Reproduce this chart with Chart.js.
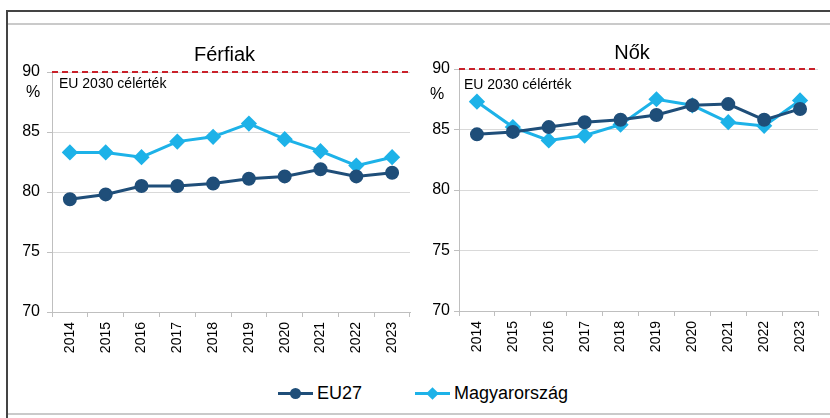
<!DOCTYPE html>
<html lang="hu">
<head>
<meta charset="utf-8">
<title>Foglalkoztatási ráta – Férfiak / Nők</title>
<script src="https://cdn.jsdelivr.net/npm/chart.js@4"></script>
<style>
  html, body { margin: 0; padding: 0; background: #fff; }
  body { width: 830px; height: 418px; position: relative; overflow: hidden;
         font-family: "Liberation Sans", Arial, sans-serif; }
  .frame-top { position: absolute; left: 6px; top: 10px; width: 824px; height: 2px; background: #444; }
  .frame-left { position: absolute; left: 6px; top: 10px; width: 2px; height: 408px; background: #444; }
  .rule { position: absolute; left: 8px; width: 822px; height: 2px; background: #cacaca; }
  .panel { position: absolute; }
  .legend { position: absolute; top: 381px; left: 0; height: 24px; }
  .legend-item { position: absolute; top: 0; height: 24px; }
  .legend-item .ln { position: absolute; top: 11px; left: 0; width: 35px; height: 3px; }
  .legend-item .mk { position: absolute; }
  .legend-item .tx { position: absolute; top: 2px; font-size: 18px; color: #000; white-space: nowrap; }
</style>
</head>
<body>
<div class="frame-top"></div>
<div class="frame-left"></div>
<div class="rule" style="top:23px"></div>
<div class="rule" style="top:413px"></div>

<div class="panel" style="left:10px; top:30px; width:410px; height:330px;">
  <canvas id="chart-ferfiak"></canvas>
</div>
<div class="panel" style="left:417px; top:27px; width:413px; height:332px;">
  <canvas id="chart-nok"></canvas>
</div>

<div class="legend" id="legend"></div>

<script>
// ── Data ──────────────────────────────────────────────────
const years = ['2014', '2015', '2016', '2017', '2018', '2019', '2020', '2021', '2022', '2023'];

const ferfiakEU27 = [79.4, 79.8, 80.5, 80.5, 80.7, 81.1, 81.3, 81.9, 81.3, 81.6];
const ferfiakHU   = [83.3, 83.3, 82.9, 84.2, 84.6, 85.7, 84.4, 83.4, 82.2, 82.9];

const nokEU27 = [84.6, 84.8, 85.2, 85.6, 85.8, 86.2, 87.0, 87.1, 85.8, 86.7];
const nokHU   = [87.3, 85.2, 84.1, 84.5, 85.4, 87.5, 87.0, 85.6, 85.3, 87.4];

const seriesNames = ['EU27', 'Magyarország'];
const yTicks = [70, 75, 80, 85, 90];
const target = 90;
const targetLabel = 'EU 2030 célérték';

const FONT = '"Liberation Sans", Arial, sans-serif';
const COLORS = {
    eu: '#1f4e79',
    hu: '#1db2e8',
    target: '#c9212a',
    grid: '#d9d9d9',
    axis: '#bfbfbf'
};

/**
 * Panel title, target line + its label, and the "%" unit under the top tick
 */
const panelDecorPlugin = {
    id: 'panelDecor',
    beforeDatasetsDraw(chart, args, opts) {
        const { ctx, chartArea: { left, right, top } } = chart;
        const y = chart.scales.y.getPixelForValue(target);

        ctx.save();
        ctx.strokeStyle = COLORS.target;
        ctx.lineWidth = 2;
        ctx.setLineDash([6, 4]);
        ctx.beginPath();
        ctx.moveTo(left, y);
        ctx.lineTo(right, y);
        ctx.stroke();
        ctx.setLineDash([]);

        ctx.fillStyle = '#000';
        ctx.textBaseline = 'middle';
        ctx.textAlign = 'left';
        ctx.font = `14px ${FONT}`;
        ctx.fillText(targetLabel, left + opts.labelDx, top + opts.labelDy);

        ctx.textAlign = 'center';
        ctx.font = `16px ${FONT}`;
        ctx.fillText('%', left + opts.unitDx, top + opts.unitDy);

        // panel title
        ctx.font = `20px ${FONT}`;
        ctx.fillText(opts.title, (left + right) / 2 + opts.titleDx, opts.titleY);
        ctx.restore();
    }
};

function makeChart(id, euData, huData, pad, decor) {
    return new Chart(document.getElementById(id), {
        type: 'line',
        data: {
            labels: years,
            datasets: [{
                label: seriesNames[0],
                data: euData,
                borderColor: COLORS.eu,
                backgroundColor: COLORS.eu,
                borderWidth: 3,
                pointStyle: 'circle',
                pointRadius: 5.5,
                pointBackgroundColor: COLORS.eu,
                pointBorderColor: COLORS.eu,
                tension: 0
            }, {
                label: seriesNames[1],
                data: huData,
                borderColor: COLORS.hu,
                backgroundColor: COLORS.hu,
                borderWidth: 3,
                pointStyle: 'rectRot',
                pointRadius: 6,
                pointBackgroundColor: COLORS.hu,
                pointBorderColor: COLORS.hu,
                tension: 0
            }]
        },
        plugins: [panelDecorPlugin],
        options: {
            responsive: true,
            maintainAspectRatio: false,
            animation: false,
            layout: { padding: { left: 0, right: pad.right, top: 42, bottom: 0 } },
            plugins: {
                legend: { display: false },
                tooltip: { enabled: false },
                title: { display: false },
                panelDecor: decor
            },
            scales: {
                x: {
                    offset: true,
                    afterFit: s => { s.height = 48; },
                    grid: { offset: true, drawOnChartArea: false, drawTicks: true, tickLength: 5, color: COLORS.axis },
                    border: { display: true, color: COLORS.axis, width: 1 },
                    ticks: {
                        color: '#000',
                        font: { family: FONT, size: 14 },
                        minRotation: 90,
                        maxRotation: 90,
                        padding: 5,
                        autoSkip: false
                    }
                },
                y: {
                    min: yTicks[0],
                    max: yTicks[yTicks.length - 1],
                    afterFit: s => { s.width = 42; },
                    afterBuildTicks: s => { s.ticks = yTicks.map(v => ({ value: v })); },
                    grid: { color: COLORS.grid, lineWidth: 1, tickLength: 5, tickColor: COLORS.axis },
                    border: { display: true, color: COLORS.axis, width: 1 },
                    ticks: {
                        color: '#000',
                        font: { family: FONT, size: 16 },
                        padding: pad.tickPad
                    }
                }
            }
        }
    });
}

makeChart('chart-ferfiak', ferfiakEU27, ferfiakHU,
    { right: 10, tickPad: 7 },
    { title: 'Férfiak', titleDx: -6.5, titleY: 25, labelDx: 7, labelDy: 12, unitDx: -19, unitDy: 21 });

makeChart('chart-nok', nokEU27, nokHU,
    { right: 12, tickPad: 4 },
    { title: 'Nők', titleDx: -6.5, titleY: 26, labelDx: 5, labelDy: 16, unitDx: -22, unitDy: 26 });

// ── Shared legend (HTML) ──────────────────────────────────
function renderLegend() {
    const legend = document.getElementById('legend');
    const items = [
        { name: seriesNames[0], color: COLORS.eu, x: 278, shape: 'circle' },
        { name: seriesNames[1], color: COLORS.hu, x: 415, shape: 'diamond' }
    ];
    legend.innerHTML = items.map(it => {
        const mk = it.shape === 'circle'
            ? `<span class="mk" style="left:12px;top:7px;width:11px;height:11px;border-radius:50%;background:${it.color}"></span>`
            : `<span class="mk" style="left:13px;top:8px;width:9px;height:9px;transform:rotate(45deg);background:${it.color}"></span>`;
        return `<div class="legend-item" style="left:${it.x}px">
            <span class="ln" style="background:${it.color}"></span>${mk}
            <span class="tx" style="left:39px">${it.name}</span>
        </div>`;
    }).join('');
}
renderLegend();
</script>
</body>
</html>
